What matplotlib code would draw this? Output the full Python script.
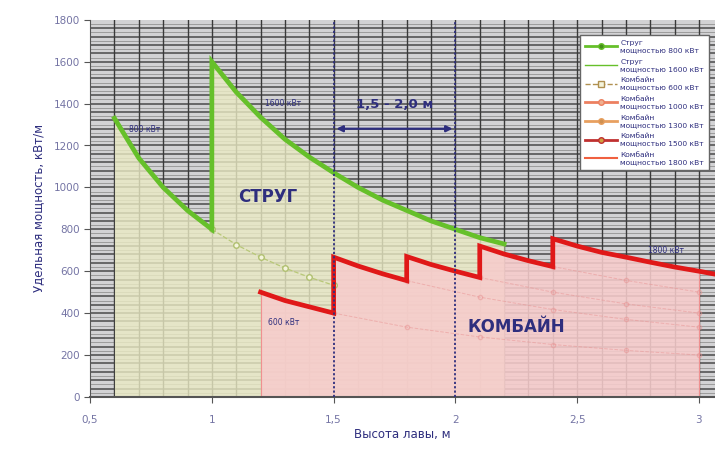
import numpy as np
import matplotlib.pyplot as plt
from matplotlib.lines import Line2D

# --- Данные ---
plow800_x = [0.6, 0.7, 0.8, 0.9, 1.0]
plow800_y = [1330, 1140, 1000, 890, 800]

plow1600_x = [1.0, 1.1, 1.2, 1.3, 1.4, 1.5, 1.6, 1.7, 1.8, 1.9, 2.0, 2.1, 2.2]
plow1600_y = [1600, 1455, 1335, 1230, 1145, 1070, 1000, 940, 890, 840, 800, 760, 730]

# продолжение струга 800 кВт (пунктир)
plow800_tail_x = [1.0, 1.1, 1.2, 1.3, 1.4, 1.5]
plow800_tail_y = [800, 727, 667, 615, 571, 533]

comb600_x = [1.2, 1.3, 1.4, 1.5]
comb600_y = [500, 460, 430, 400]
comb1000_x = [1.5, 1.6, 1.7, 1.8]
comb1000_y = [667, 625, 588, 555]
comb1300_x = [1.8, 1.9, 2.0, 2.1]
comb1300_y = [670, 632, 600, 570]
comb1500_x = [2.1, 2.2, 2.3, 2.4]
comb1500_y = [720, 682, 650, 622]
comb1800_x = [2.4, 2.5, 2.6, 2.7, 2.8, 2.9, 3.0, 3.07]
comb1800_y = [755, 720, 690, 667, 643, 620, 600, 585]

# бледные продолжения кривых комбайнов
tail600_x = [1.5, 1.8, 2.1, 2.4, 2.7, 3.0]
tail600_y = [400, 333, 286, 250, 222, 200]
tail1000_x = [1.8, 2.1, 2.4, 2.7, 3.0]
tail1000_y = [555, 476, 417, 370, 333]
tail1300_x = [2.1, 2.4, 2.7, 3.0]
tail1300_y = [570, 500, 444, 400]
tail1500_x = [2.4, 2.7, 3.0]
tail1500_y = [622, 556, 500]

x_ticks = [0.5, 1, 1.5, 2, 2.5, 3]
x_tick_labels = ["0,5", "1", "1,5", "2", "2,5", "3"]
y_ticks = list(range(0, 1801, 200))

navy = "#2e2e7e"
tick_col = "#7474a4"

fig = plt.figure(figsize=(7.15, 4.5), dpi=100)
ax = fig.add_axes([0.126, 0.118, 0.874, 0.838])
ax.set_facecolor("#d2d2d4")

ax.set_xlim(0.5, 3.066)
ax.set_ylim(0, 1800)

# Сетка
for yv in np.arange(20, 1800, 20):
    major = (yv % 40 == 0)
    ax.axhline(yv, color="#4a4a4a" if major else "#9c9c9c",
               lw=1.1 if major else 0.7, zorder=0)
for xv in np.arange(0.6, 3.06, 0.1):
    ax.axvline(xv, color="#3a3a3a", lw=1.0, zorder=0)

# Заливки
plow_x = plow800_x + plow1600_x
plow_y = plow800_y + plow1600_y
ax.fill_between(plow_x, plow_y, 0, color="#ebebc4", alpha=0.8, zorder=1, lw=0)
comb_x = comb600_x + comb1000_x + comb1300_x + comb1500_x + comb1800_x[:-1]
comb_y = comb600_y + comb1000_y + comb1300_y + comb1500_y + comb1800_y[:-1]
ax.fill_between(comb_x, comb_y, 0, color="#f7cccc", alpha=0.88, zorder=2, lw=0)
ax.plot([1.2, 1.2], [0, comb600_y[0]], color="#f09090", lw=0.8, zorder=2)
ax.plot([3.0, 3.0], [0, comb1800_y[-2]], color="#f09090", lw=0.8, zorder=2)

# Бледные продолжения
for tx, ty in [(tail600_x, tail600_y), (tail1000_x, tail1000_y),
               (tail1300_x, tail1300_y), (tail1500_x, tail1500_y)]:
    ax.plot(tx, ty, ls="--", color="#e89090", lw=0.7, alpha=0.5,
            marker="o", ms=3, mfc="none", zorder=3)

ax.plot(plow800_tail_x, plow800_tail_y, ls="--", color="#b8c878", lw=0.9,
        marker="o", ms=4, mfc="#f4f4dc", mec="#b0c070", zorder=4)

# Струг
ax.plot(plow_x, plow_y, color="#66c02a", lw=3.4, solid_joinstyle="miter", zorder=5)

# Комбайн
ax.plot(comb600_x + comb1000_x + comb1300_x + comb1500_x + comb1800_x,
        comb600_y + comb1000_y + comb1300_y + comb1500_y + comb1800_y,
        color="#e01818", lw=3.4, solid_joinstyle="miter", zorder=6)

# Диапазон 1,5 - 2,0 м
for xv in [1.5, 2.0]:
    ax.axvline(xv, color=navy, lw=1.3, ls=(0, (1.2, 1.2)), zorder=7)
ax.annotate("", xy=(1.5, 1280), xytext=(2.0, 1280),
            arrowprops=dict(arrowstyle="<|-|>", color=navy, lw=1.6,
                            mutation_scale=9), zorder=8)
ax.text(1.75, 1395, "1,5 - 2,0 м", color=navy, fontsize=9.5, fontweight="bold",
        ha="center", va="center", zorder=8)

# Подписи
lbl = dict(color=navy, fontsize=5.5, va="center", zorder=8)
ax.text(0.66, 1275, "800 кВт", **lbl)
ax.text(1.22, 1400, "1600 кВт", **lbl)
ax.text(1.23, 355, "600 кВт", **lbl)
ax.text(2.79, 700, "1800 кВт", **lbl)
ax.text(1.23, 955, "СТРУГ", color=navy, fontsize=12, fontweight="bold",
        ha="center", va="center", zorder=8)
ax.text(2.25, 333, "КОМБАЙН", color=navy, fontsize=12, fontweight="bold",
        ha="center", va="center", zorder=8)

# Оси
ax.set_xticks(x_ticks)
ax.set_xticklabels(x_tick_labels)
ax.set_yticks(y_ticks)
ax.tick_params(axis="both", colors="#555555", labelcolor=tick_col,
               labelsize=7.5, direction="out", length=4)
ax.tick_params(axis="x", pad=9)
for s in ["top", "right"]:
    ax.spines[s].set_visible(False)
ax.spines["left"].set_color("#555555")
ax.spines["bottom"].set_color("#555555")
ax.spines["bottom"].set_linewidth(1.5)
ax.grid(False)
ax.set_ylabel("Удельная мощность, кВт/м", color=navy, fontsize=8.5, labelpad=6)
ax.set_xlabel("Высота лавы, м", color=navy, fontsize=8.5, labelpad=2)

# Легенда
handles = [
    Line2D([], [], color="#66c02a", lw=2, marker="o", ms=4, mfc="#449018"),
    Line2D([], [], color="#66c02a", lw=1),
    Line2D([], [], color="#b09050", lw=1, ls="--", marker="s", ms=4, mfc="#f4f4dc"),
    Line2D([], [], color="#ec8060", lw=2, marker="o", ms=4, mfc="#f0b090"),
    Line2D([], [], color="#e8a060", lw=2, marker="o", ms=4, mfc="#d09050"),
    Line2D([], [], color="#c03030", lw=2, marker="o", ms=4, mfc="#d0a040"),
    Line2D([], [], color="#f06040", lw=1.5),
]
labels = [
    "Струг\nмощностью 800 кВт",
    "Струг\nмощностью 1600 кВт",
    "Комбайн\nмощностью 600 кВт",
    "Комбайн\nмощностью 1000 кВт",
    "Комбайн\nмощностью 1300 кВт",
    "Комбайн\nмощностью 1500 кВт",
    "Комбайн\nмощностью 1800 кВт",
]
leg = ax.legend(handles, labels, loc="upper right", bbox_to_anchor=(0.997, 0.97),
                fontsize=5.4, labelcolor=navy, frameon=True, fancybox=False,
                handlelength=4.2, labelspacing=0.75, borderpad=0.7,
                handletextpad=0.5)
leg.get_frame().set_facecolor("white")
leg.get_frame().set_edgecolor("#666666")
leg.get_frame().set_alpha(1)
leg.set_zorder(10)

fig.savefig("out.png", dpi=100)
